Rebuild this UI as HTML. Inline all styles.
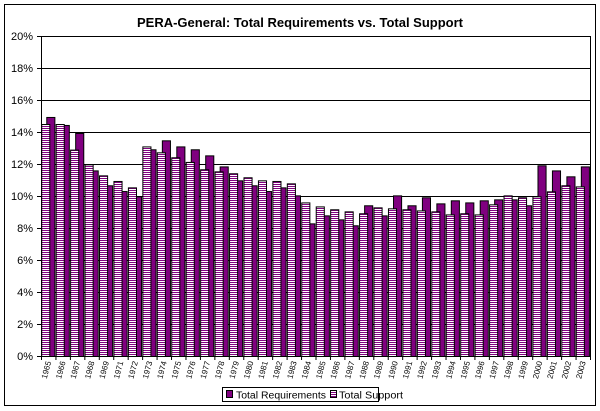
<!DOCTYPE html>
<html><head><meta charset="utf-8"><style>
body{margin:0;background:#fff;}
svg{display:block;font-family:"Liberation Sans",Arial,sans-serif;}
</style></head><body>
<svg width="600" height="411" viewBox="0 0 600 411">
<defs>
<pattern id="stripe" width="4" height="2" patternUnits="userSpaceOnUse">
<rect width="4" height="1" fill="#800080"/><rect y="1" width="4" height="1" fill="#fff"/>
</pattern>
</defs>
<rect x="4.5" y="4.5" width="591" height="401" fill="#fff" stroke="#000"/>
<text x="300" y="27" text-anchor="middle" font-size="13" font-weight="bold">PERA-General:  Total Requirements vs. Total Support</text>
<g id="grid"></g>
<g id="bars"></g>
<g id="axes"></g>
<g>
<rect x="222.5" y="387.5" width="156" height="14" fill="#fff" stroke="#000"/>
<rect x="226.5" y="390.5" width="6" height="7" fill="#800080" stroke="#000"/>
<text x="236" y="398.5" font-size="10" textLength="90" lengthAdjust="spacingAndGlyphs">Total Requirements</text>
<rect x="330.5" y="390.5" width="6" height="7" fill="url(#stripe)" stroke="#000"/>
<text x="339" y="398.5" font-size="10" textLength="64" lengthAdjust="spacingAndGlyphs">Total Support</text>
</g>
</svg>
<script>
const categories=["1965","1966","1967","1968","1969","1971","1972","1973","1974","1975","1976","1977","1978","1979","1980","1981","1982","1983","1984","1985","1986","1987","1988","1989","1990","1991","1992","1993","1994","1995","1996","1997","1998","1999","2000","2001","2002","2003"];
const requirements=[14.94,14.44,13.94,11.6,10.67,10.31,9.98,12.92,13.48,13.1,12.92,12.54,11.85,10.98,10.67,10.31,10.54,10.04,8.29,8.79,8.54,8.17,9.42,8.79,10.04,9.42,9.92,9.54,9.73,9.6,9.73,9.79,9.79,9.42,11.92,11.6,11.23,11.85];
const support=[14.5,14.5,12.9,11.98,11.29,10.94,10.54,13.1,12.73,12.42,12.13,11.67,11.54,11.42,11.17,10.98,10.94,10.79,9.6,9.35,9.17,9.04,8.92,9.29,9.23,9.17,9.1,9.04,8.85,8.92,8.85,9.48,10.04,9.92,9.98,10.29,10.67,10.6];
const yTicks=[0,2,4,6,8,10,12,14,16,18,20];
const NS="http://www.w3.org/2000/svg";
const L=41,R=590,T=36,B=356,yMax=20;
const bw=(R-L)/categories.length;
const y=v=>B-(v/yMax)*(B-T);
const x=i=>L+i*bw;
function mk(tag,attrs,parent){const e=document.createElementNS(NS,tag);for(const k in attrs)e.setAttribute(k,attrs[k]);parent.appendChild(e);return e;}
const grid=document.getElementById('grid'),bars=document.getElementById('bars'),axes=document.getElementById('axes');
yTicks.forEach(t=>{
  if(t>0){const g=mk('line',{x1:L,x2:R,y1:y(t)+.5,y2:y(t)+.5,stroke:'#000','stroke-width':1},grid);
  
  }
  mk('line',{x1:L-4,x2:L,y1:y(t)+.5,y2:y(t)+.5,stroke:'#000'},axes);
  const tx=mk('text',{x:L-8,y:y(t)+4,'text-anchor':'end','font-size':11},axes);
  tx.textContent=t+'%';
  
  
});
mk('line',{x1:R+.5,x2:R+.5,y1:T,y2:B,stroke:'#000'},grid);
const bwid=bw*0.56;
categories.forEach((c,i)=>{
  const rr=mk('rect',{x:x(i)+bw*0.4,y:y(requirements[i])+.5,width:bwid,height:B-y(requirements[i]),fill:'#800080',stroke:'#000','stroke-width':1},bars);
  
  
  const sr=mk('rect',{x:x(i)+bw*0.05,y:y(support[i])+.5,width:bwid,height:B-y(support[i]),fill:'url(#stripe)',stroke:'#000','stroke-width':1},bars);
  
  
  mk('line',{x1:x(i)+.5,x2:x(i)+.5,y1:B,y2:B+4,stroke:'#000'},axes);
  const cx=x(i)+bw/2+3,cy=B+6;
  const tx=mk('text',{x:cx,y:cy,'text-anchor':'end','font-size':8,transform:`rotate(-75 ${cx} ${cy})`},axes);
  tx.textContent=c;
  
  
});
mk('line',{x1:R+.5,x2:R+.5,y1:B,y2:B+4,stroke:'#000'},axes);
mk('line',{x1:L+.5,x2:L+.5,y1:T,y2:B,stroke:'#000'},axes);
mk('line',{x1:L,x2:R,y1:B+.5,y2:B+.5,stroke:'#000'},axes);
</script>
</body></html>
